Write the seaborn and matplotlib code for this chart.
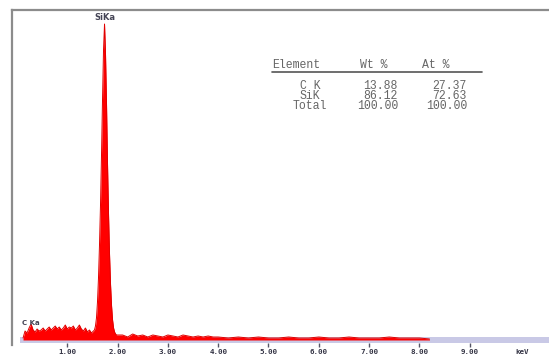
import matplotlib
matplotlib.use("Agg")
import matplotlib.pyplot as plt
import seaborn as sns

# spectrum counts (arbitrary units)
energy_low = [0.12, 0.16, 0.20, 0.24, 0.28, 0.32, 0.36, 0.40, 0.44, 0.48,
              0.52, 0.56, 0.60, 0.64, 0.68, 0.72, 0.76, 0.80, 0.84, 0.88,
              0.92, 0.96, 1.00, 1.04, 1.08, 1.12, 1.16, 1.20, 1.24, 1.28,
              1.32, 1.36, 1.40, 1.44, 1.48]
counts_low = [2, 9, 7, 12, 16, 10, 8, 11, 9, 10,
              12, 9, 11, 13, 10, 12, 14, 11, 13, 10,
              12, 15, 11, 13, 12, 14, 10, 12, 15, 11,
              9, 12, 8, 10, 7]

energy_peak = [1.52, 1.54, 1.56, 1.58, 1.60, 1.62, 1.64, 1.66, 1.68, 1.70,
               1.72, 1.74, 1.76, 1.78, 1.80, 1.82, 1.84, 1.86, 1.88, 1.90,
               1.92, 1.94, 1.96, 1.98]
counts_peak = [9, 10, 14, 22, 38, 62, 95, 135, 185, 240,
               290, 316, 285, 235, 175, 125, 85, 55, 34, 20,
               12, 8, 6, 5]

energy_high = [2.1, 2.2, 2.3, 2.4, 2.5, 2.6, 2.7, 2.8, 2.9, 3.0,
               3.1, 3.2, 3.3, 3.4, 3.5, 3.6, 3.7, 3.8, 3.9, 4.0,
               4.2, 4.4, 4.6, 4.8, 5.0, 5.2, 5.4, 5.6, 5.8, 6.0,
               6.2, 6.4, 6.6, 6.8, 7.0, 7.2, 7.4, 7.6, 7.8, 8.0, 8.2]
counts_high = [5, 3, 6, 4, 5, 3, 5, 4, 3, 5,
               4, 3, 5, 4, 3, 4, 3, 4, 3, 3,
               2, 3, 2, 3, 2, 2, 3, 2, 2, 3,
               2, 2, 3, 2, 2, 2, 3, 2, 2, 2, 1]

tick_values = [1, 2, 3, 4, 5, 6, 7, 8, 9, 10.05]
tick_labels = ["1.00", "2.00", "3.00", "4.00", "5.00", "6.00", "7.00", "8.00", "9.00", "keV"]

table_elements = ["C K", "SiK", "Total"]
table_wt = ["13.88", "86.12", "100.00"]
table_at = ["27.37", "72.63", "100.00"]

energy = energy_low + energy_peak + energy_high
counts = counts_low + counts_peak + counts_high

sns.set_style("white")

W, H = 549, 358
fig = plt.figure(figsize=(W / 100, H / 100), dpi=100)
ax = fig.add_axes([12 / W, (H - 345) / H, (W - 12) / W, 335 / H])

# lavender baseline band
ax.axhspan(-3, 3, xmin=0.015, xmax=1.0, color="#c9c9e6", zorder=1, lw=0)

ax.fill_between(energy, counts, 0, color="#ff0000", lw=0, zorder=2)
sns.lineplot(x=energy, y=counts, ax=ax, color="#e00000", lw=0.7, zorder=3,
             sort=False, estimator=None)

ax.set_xlim(-5 / 50.3, (W - 17) / 50.3)
ax.set_ylim(-5, 330)

for side in ["right", "bottom"]:
    ax.spines[side].set_visible(False)
for side in ["top", "left"]:
    ax.spines[side].set_visible(True)
    ax.spines[side].set_color("#8c8c8c")
    ax.spines[side].set_linewidth(1.6)

ax.set_yticks([])
ax.set_xticks(tick_values)
ax.set_xticklabels(tick_labels, fontfamily="DejaVu Sans Mono",
                   fontweight="bold", fontsize=5.4, color="#333344")
ax.tick_params(axis="x", direction="inout", length=3, width=1,
               color="#555566", pad=1.5, bottom=True)
ax.xaxis.get_major_ticks()[-1].tick1line.set_visible(False)

# peak labels
ax.text(1.74, 318, "SiKa", ha="center", va="bottom", fontsize=6,
        fontweight="bold", color="#444455")
ax.text(0.1, 17, "C Ka", ha="left", va="center", fontsize=5,
        fontweight="bold", color="#444455")

# quantification table
mono = "Liberation Mono"
tcol = "#666666"
fs = 8.3


def fx(px):
    return px / W


def fy(py):
    return 1 - py / H


fig.text(fx(272), fy(65), "Element", family=mono, fontsize=fs, color=tcol,
         ha="left", va="center")
fig.text(fx(388), fy(65), "Wt %", family=mono, fontsize=fs, color=tcol,
         ha="right", va="center")
fig.text(fx(449), fy(65), "At %", family=mono, fontsize=fs, color=tcol,
         ha="right", va="center")
fig.add_artist(plt.Line2D([fx(272), fx(482)], [fy(72), fy(72)],
                          color="#555555", lw=1.2))

# table body: one multi-line text per column
fig.text(fx(310), fy(96), "\n".join(table_elements), family=mono, fontsize=fs,
         color=tcol, ha="center", va="center", multialignment="center",
         linespacing=0.8)
fig.text(fx(398), fy(96), "\n".join(table_wt), family=mono, fontsize=fs,
         color=tcol, ha="right", va="center", multialignment="right",
         linespacing=0.8)
fig.text(fx(467), fy(96), "\n".join(table_at), family=mono, fontsize=fs,
         color=tcol, ha="right", va="center", multialignment="right",
         linespacing=0.8)

fig.savefig("out.png", dpi=100, facecolor="white")
